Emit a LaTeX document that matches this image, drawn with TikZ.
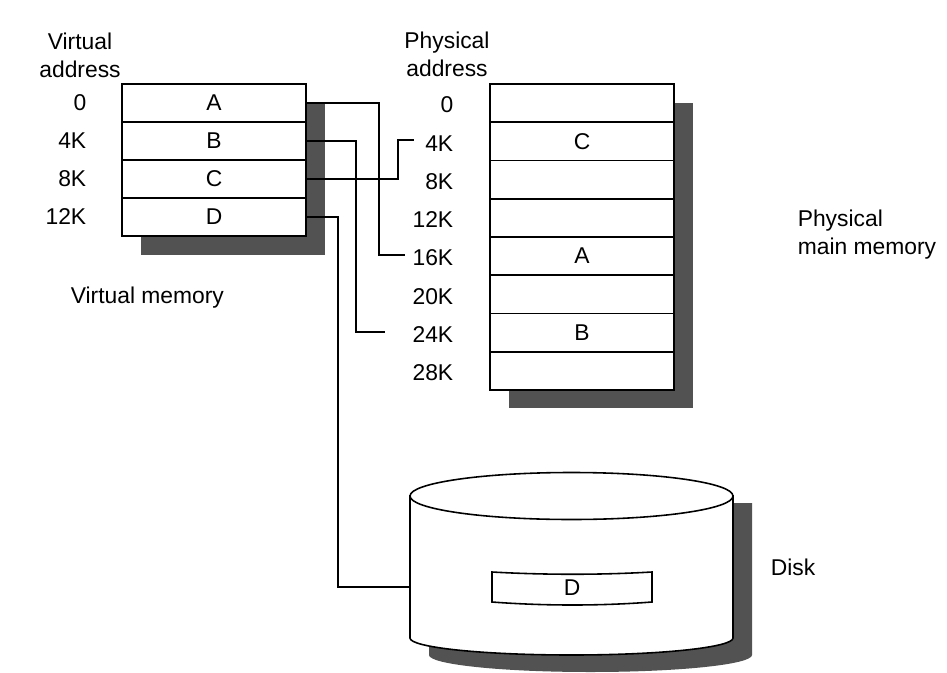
\documentclass[tikz,border=0pt]{standalone}
\usepackage{fontspec}
\setmainfont{Liberation Sans}

\begin{document}
\begin{tikzpicture}[x=0.02cm,y=-0.02cm,line width=0.9pt,
  every node/.style={font=\fontsize{13}{16}\selectfont},
  cell/.style={draw,fill=white,minimum width=3.68cm,minimum height=0.765cm,inner sep=0},
  shadowfill/.style={fill=black!68},
  addr/.style={anchor=east,inner sep=0}]
  \useasboundingbox (0,0) rectangle (947,673);

  % virtual memory
  \fill [shadowfill] (141,103) rectangle (325,255);
  \node [cell] (vA) at (214,103) {A};
  \node [cell] (vB) at (214,141) {B};
  \node [cell] (vC) at (214,179) {C};
  \node [cell] (vD) at (214,217) {D};

  \node [align=center] (vhead) at (80,55) {Virtual\\address};
  \node [addr] (v0) at (87,103) {0};
  \node [addr] (v4) at (87,141) {4K};
  \node [addr] (v8) at (87,179) {8K};
  \node [addr] (v12) at (87,217) {12K};
  \node [anchor=west,inner sep=0] (vmem) at (70,298) {Virtual memory};

  % physical memory
  \fill [shadowfill] (509,103) rectangle (693,408);
  \foreach \i/\t in {0/,1/C,2/,3/,4/A,5/,6/B,7/}
    \node [cell] (p\i) at (582,103.1+38.25*\i) {\t};

  \node [align=center] (phead) at (447,54) {Physical\\address};
  \foreach \i/\t in {0/0,1/4K,2/8K,3/12K,4/16K,5/20K,6/24K,7/28K}
    \node [addr] (a\i) at (454,105+38.25*\i) {\t};
  \node [align=left,anchor=west,inner sep=0] (pmem) at (797,235) {Physical\\main memory};

  % disk
  \fill [shadowfill] (429,503) -- (752,503) -- (752,655) arc (0:180:161.5 and 17) -- cycle;
  \draw [fill=white] (410,496) -- (410,638) arc (180:0:161.5 and 17) -- (733,496) -- cycle;
  \draw [fill=white] (571.5,496) ellipse (161.5 and 23.5);
  \draw (492,572) .. controls (545,575) and (600,575) .. (652,572) -- (652,602)
    .. controls (600,606) and (545,606) .. (492,602) -- cycle;
  \node (dD) at (572,588) {D};
  \node [anchor=west,inner sep=0] (disk) at (770,567) {Disk};

  \coordinate (eA) at (405,255);
  \coordinate (eB) at (385,332);
  \coordinate (eC) at (414,140);
  \coordinate (eD) at (410,587);

  % mapping
  \draw (vA.east) -- ++(72,0) |- (eA);
  \draw (vB.east) -- ++(49,0) |- (eB);
  \draw (vC.east) -- ++(91,0) |- (eC);
  \draw (vD.east) -- ++(31,0) |- (eD);
\end{tikzpicture}
\end{document}
